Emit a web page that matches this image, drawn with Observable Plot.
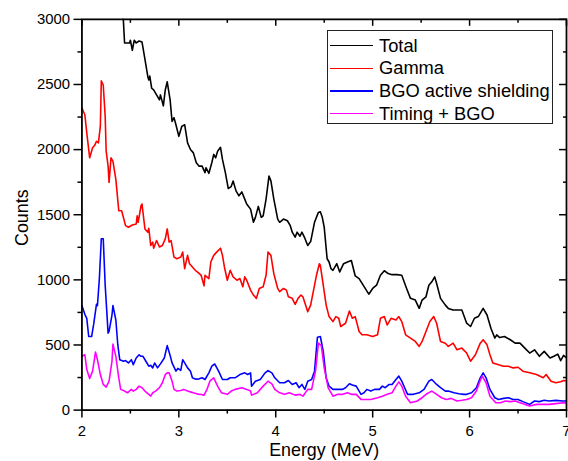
<!DOCTYPE html>
<html>
<head>
<meta charset="utf-8">
<script src="https://cdn.jsdelivr.net/npm/d3@7"></script>
<script src="https://cdn.jsdelivr.net/npm/@observablehq/plot@0.6"></script>
<style>
  html, body { margin: 0; padding: 0; background: #fff; overflow: hidden; }
  #wrap { position: relative; width: 568px; height: 461px; overflow: hidden; font-family: "Liberation Sans", Arial, sans-serif; }
  #legend { position: absolute; left: 327px; top: 30px; width: 226px; height: 94px; box-sizing: border-box; border: 1px solid #222; background: #fff; }
  .row { position: absolute; left: 0; height: 18px; display: flex; align-items: center; font-size: 18.3px; line-height: 18px; color: #000; white-space: nowrap; }
  .swatch { display: inline-block; width: 43px; height: 1.4px; margin-left: 2px; margin-right: 6px; }
</style>
</head>
<body>
<div id="wrap"></div>
<script>
// ---- data ----
const seriesNames = ["Total", "Gamma", "BGO active shielding", "Timing + BGO"];
const seriesColors = ["#000000", "#ff0000", "#0000ff", "#ff00ff"];

const xTicks = [2, 3, 4, 5, 6, 7];
const xTickLabels = ["2", "3", "4", "5", "6", "7"];
const xMinorTicks = [2.5, 3.5, 4.5, 5.5, 6.5];
const yTicks = [0, 500, 1000, 1500, 2000, 2500, 3000];
const yTickLabels = ["0", "500", "1000", "1500", "2000", "2500", "3000"];
const yMinorTicks = [250, 750, 1250, 1750, 2250, 2750];

const totalE = [2.41,2.42,2.44,2.49,2.50,2.52,2.54,2.56,2.59,2.62,2.64,2.68,2.69,2.70,2.72,2.74,2.77,2.80,2.81,2.84,2.86,2.88,2.91,2.93,2.95,2.97,3.00,3.03,3.06,3.09,3.12,3.15,3.18,3.21,3.24,3.27,3.28,3.31,3.34,3.36,3.38,3.40,3.43,3.45,3.48,3.51,3.54,3.56,3.59,3.62,3.65,3.68,3.70,3.74,3.77,3.79,3.82,3.85,3.87,3.90,3.93,3.95,3.98,4.02,4.04,4.08,4.12,4.15,4.17,4.20,4.22,4.25,4.27,4.30,4.33,4.36,4.40,4.44,4.46,4.48,4.50,4.53,4.55,4.57,4.59,4.63,4.66,4.70,4.74,4.78,4.82,4.86,4.91,4.96,5.00,5.04,5.08,5.12,5.16,5.20,5.25,5.30,5.35,5.39,5.44,5.48,5.51,5.55,5.58,5.61,5.64,5.66,5.70,5.75,5.78,5.83,5.87,5.92,5.97,6.01,6.05,6.09,6.14,6.18,6.22,6.26,6.28,6.31,6.36,6.42,6.47,6.52,6.57,6.62,6.67,6.72,6.77,6.83,6.87,6.91,6.94,6.97,7.00];
const totalC = [3400,3100,2819,2819,2840,2763,2840,2819,2834,2826,2738,2560,2534,2565,2471,2458,2420,2382,2420,2336,2458,2521,2382,2216,2245,2191,2102,2178,2191,2052,2001,1975,1899,1873,1873,1823,1861,1818,1899,1963,1937,1988,2018,1925,1823,1701,1716,1759,1683,1645,1675,1620,1582,1543,1442,1480,1564,1480,1492,1620,1797,1760,1620,1467,1442,1467,1454,1416,1366,1328,1366,1335,1366,1320,1264,1294,1442,1518,1523,1480,1404,1162,1137,1086,1073,1124,1061,1124,1137,1149,1030,1010,950,890,934,959,1035,1070,1048,1040,1040,1035,934,858,845,781,845,870,959,985,1023,972,858,806,781,768,768,768,667,642,705,718,781,730,629,553,578,557,565,540,514,514,476,438,463,413,451,400,413,430,380,420,400];

const gammaE = [2.00,2.03,2.05,2.08,2.11,2.13,2.15,2.17,2.19,2.20,2.22,2.24,2.25,2.27,2.28,2.30,2.32,2.35,2.38,2.41,2.45,2.48,2.52,2.56,2.57,2.58,2.61,2.62,2.65,2.68,2.69,2.71,2.73,2.74,2.77,2.80,2.83,2.86,2.88,2.90,2.92,2.95,2.98,3.02,3.04,3.06,3.09,3.11,3.14,3.17,3.20,3.23,3.26,3.27,3.31,3.33,3.36,3.39,3.43,3.45,3.47,3.50,3.53,3.56,3.60,3.63,3.66,3.68,3.70,3.74,3.77,3.80,3.83,3.87,3.90,3.92,3.95,3.98,4.02,4.04,4.08,4.11,4.13,4.17,4.20,4.23,4.26,4.28,4.33,4.36,4.38,4.42,4.45,4.46,4.49,4.52,4.55,4.59,4.62,4.65,4.67,4.72,4.76,4.79,4.82,4.86,4.89,4.94,5.00,5.05,5.08,5.12,5.15,5.19,5.24,5.27,5.30,5.34,5.39,5.44,5.48,5.51,5.55,5.59,5.63,5.66,5.70,5.75,5.78,5.83,5.87,5.92,5.97,6.01,6.06,6.11,6.14,6.18,6.21,6.24,6.30,6.35,6.40,6.45,6.50,6.55,6.62,6.69,6.76,6.79,6.84,6.89,6.94,6.97,7.00];
const gammaC = [2319,2268,2128,1937,2014,2031,2064,2052,2178,2529,2496,2255,1988,1873,1747,1937,1912,1772,1531,1531,1416,1404,1421,1429,1492,1442,1569,1582,1391,1366,1396,1264,1290,1243,1302,1252,1264,1315,1391,1290,1302,1175,1162,1175,1213,1086,1188,1124,1099,1073,1056,1035,954,1035,1010,1137,1188,1213,1243,1188,1099,997,1073,1023,997,1010,947,1023,997,921,883,858,934,947,1035,1213,1188,1048,934,909,934,921,870,858,812,858,883,870,756,806,883,1035,1124,1111,959,806,718,680,718,705,642,667,761,705,718,604,578,578,565,578,705,718,654,705,692,718,680,578,553,527,489,527,604,680,718,667,527,514,489,514,463,476,438,375,425,514,540,501,425,362,349,337,337,324,329,299,286,273,248,273,222,210,217,227,225];

const bgoE = [2.00,2.03,2.05,2.07,2.10,2.12,2.15,2.16,2.18,2.20,2.22,2.24,2.27,2.28,2.31,2.32,2.35,2.37,2.39,2.43,2.45,2.48,2.51,2.53,2.56,2.59,2.61,2.63,2.66,2.69,2.71,2.73,2.75,2.78,2.81,2.85,2.88,2.91,2.93,2.97,2.99,3.02,3.04,3.06,3.09,3.12,3.14,3.17,3.21,3.24,3.27,3.31,3.34,3.37,3.41,3.45,3.50,3.53,3.58,3.63,3.68,3.71,3.74,3.75,3.79,3.84,3.89,3.92,3.96,3.99,4.04,4.09,4.13,4.17,4.21,4.24,4.27,4.30,4.33,4.37,4.40,4.43,4.46,4.49,4.52,4.55,4.59,4.64,4.69,4.72,4.76,4.79,4.83,4.88,4.91,4.94,4.98,5.02,5.07,5.10,5.13,5.17,5.20,5.24,5.27,5.30,5.33,5.36,5.42,5.48,5.53,5.58,5.61,5.66,5.70,5.75,5.78,5.84,5.89,5.94,5.97,6.02,6.07,6.11,6.14,6.17,6.21,6.26,6.30,6.35,6.40,6.45,6.50,6.55,6.62,6.67,6.72,6.77,6.82,6.89,6.96,7.00];
const bgoC = [802,735,705,565,565,654,812,802,1010,1315,1315,959,591,604,730,802,692,502,387,375,380,362,387,349,400,425,413,413,375,337,344,324,362,324,355,400,495,420,362,299,320,305,387,362,324,299,248,238,240,248,235,286,337,354,299,235,235,248,248,273,286,273,286,184,222,235,286,303,286,248,210,210,227,197,210,172,197,159,222,235,299,560,565,451,248,184,159,159,159,172,202,192,184,121,133,159,146,159,159,184,172,197,197,235,261,222,172,121,121,133,159,222,235,197,172,146,146,133,126,121,121,133,172,248,286,248,159,95,82,90,95,82,82,65,44,70,65,75,70,75,70,70];

const timingE = [2.00,2.03,2.05,2.08,2.11,2.14,2.16,2.19,2.22,2.25,2.28,2.31,2.32,2.35,2.38,2.40,2.44,2.47,2.51,2.53,2.56,2.59,2.62,2.65,2.69,2.71,2.73,2.76,2.80,2.83,2.86,2.88,2.90,2.93,2.95,2.98,3.02,3.05,3.09,3.12,3.15,3.20,3.22,3.26,3.29,3.32,3.36,3.40,3.44,3.50,3.54,3.58,3.65,3.70,3.74,3.75,3.81,3.87,3.92,3.96,3.99,4.04,4.09,4.14,4.20,4.25,4.28,4.33,4.37,4.41,4.44,4.47,4.50,4.54,4.59,4.64,4.69,4.74,4.78,4.83,4.88,4.93,4.98,5.05,5.10,5.15,5.20,5.24,5.27,5.30,5.34,5.39,5.46,5.51,5.56,5.61,5.66,5.71,5.76,5.81,5.87,5.92,5.97,6.02,6.07,6.11,6.13,6.17,6.21,6.27,6.32,6.37,6.42,6.47,6.52,6.57,6.62,6.69,6.76,6.82,6.89,6.96,7.00];
const timingC = [413,425,311,242,299,446,387,273,197,177,222,375,507,413,248,159,146,133,159,146,159,184,172,146,121,107,133,146,172,210,273,286,286,222,159,146,151,159,146,140,133,122,121,115,159,222,248,184,133,121,146,159,172,159,146,115,133,184,222,202,159,133,121,133,115,121,107,159,159,299,514,495,324,172,107,121,121,133,121,121,82,82,82,95,107,121,133,184,217,184,107,57,70,95,126,146,121,95,82,90,70,75,82,95,146,227,261,210,107,57,57,70,65,70,57,44,32,44,44,44,50,57,55];

const seriesE = [totalE, gammaE, bgoE, timingE];
const seriesC = [totalC, gammaC, bgoC, timingC];

// ---- chart ----
const font = "'Liberation Sans', Arial, Helvetica, sans-serif";
const lineMarks = seriesNames.map((name, i) =>
  Plot.line(d3.zip(seriesE[i], seriesC[i]), {
    x: d => d[0], y: d => d[1],
    stroke: seriesColors[i], strokeWidth: 1.6, clip: true
  })
);

const chart = Plot.plot({
  width: 572,
  height: 461,
  marginLeft: 82,
  marginRight: 2,
  marginTop: 19,
  marginBottom: 48.5,
  x: { domain: [2, 7], label: null },
  y: { domain: [0, 3000], label: null },
  style: { fontFamily: font, fontSize: "15px", color: "#000", background: "#fff", overflow: "visible" },
  marks: [
    ...lineMarks,
    Plot.frame({ stroke: "#000", strokeWidth: 1.8 }),
    // left axis
    Plot.axisY({ anchor: "left", ticks: yTicks, tickSize: 8, tickPadding: 4, strokeWidth: 1.5, fontSize: 15, label: null,
      tickFormat: d => yTickLabels[yTicks.indexOf(d)] }),
    Plot.axisY({ anchor: "left", ticks: yMinorTicks, tickSize: 4, strokeWidth: 1.5, label: null, tickFormat: () => "" }),
    // right axis (inward ticks)
    Plot.axisY({ anchor: "right", ticks: yTicks, tickSize: 8, dx: -8, strokeWidth: 1.5, label: null, tickFormat: () => "" }),
    Plot.axisY({ anchor: "right", ticks: yMinorTicks, tickSize: 4, dx: -4, strokeWidth: 1.5, label: null, tickFormat: () => "" }),
    // bottom axis
    Plot.axisX({ anchor: "bottom", ticks: xTicks, tickSize: 8, tickPadding: 7.5, strokeWidth: 1.5, fontSize: 15, label: null,
      tickFormat: d => xTickLabels[xTicks.indexOf(d)] }),
    Plot.axisX({ anchor: "bottom", ticks: xMinorTicks, tickSize: 4, strokeWidth: 1.5, label: null, tickFormat: () => "" }),
    // top axis (inward ticks)
    Plot.axisX({ anchor: "top", ticks: xTicks, tickSize: 6, dy: 6, strokeWidth: 1.5, label: null, tickFormat: () => "" }),
    Plot.axisX({ anchor: "top", ticks: xMinorTicks, tickSize: 3, dy: 3, strokeWidth: 1.5, label: null, tickFormat: () => "" }),
    // axis titles
    Plot.text(["Energy (MeV)"], { frameAnchor: "bottom", dy: 40.5, fontSize: 18, textAnchor: "middle", lineAnchor: "middle", fill: "#000" }),
    Plot.text(["Counts"], { frameAnchor: "left", dx: -60, dy: 3, rotate: -90, fontSize: 18, textAnchor: "middle", lineAnchor: "middle", fill: "#000" })
  ]
});

const wrap = document.getElementById("wrap");
wrap.appendChild(chart);

// legend (HTML overlay)
const legend = document.createElement("div");
legend.id = "legend";
seriesNames.forEach((name, i) => {
  const row = document.createElement("div");
  row.className = "row";
  row.style.top = (15.7 + i * 22.67 - 9 - 1) + "px";
  const sw = document.createElement("span");
  sw.className = "swatch";
  sw.style.background = seriesColors[i];
  const label = document.createElement("span");
  label.textContent = name;
  row.appendChild(sw);
  row.appendChild(label);
  legend.appendChild(row);
});
wrap.appendChild(legend);
</script>
</body>
</html>
